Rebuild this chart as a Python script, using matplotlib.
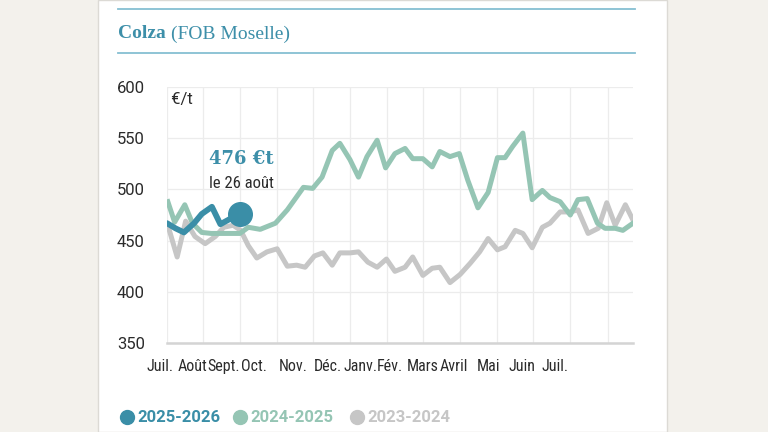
import matplotlib.pyplot as plt
from matplotlib import font_manager
from matplotlib.patches import Rectangle
from matplotlib.lines import Line2D
from matplotlib.transforms import blended_transform_factory

# semaines depuis le 1er juillet / prix en €/t
x_2526 = [0, 1, 2, 3.2, 4.1, 5.3, 6.3, 7.4, 8.6]
y_2526 = [467, 462, 458, 467, 476, 483, 466, 471, 476]

x_2425 = [0.1, 0.9, 2.1, 3.0, 4.1, 5.2, 6.3, 7.2, 8.6, 9.6, 11.0, 12.8, 14.2,
          16.1, 17.2, 18.3, 19.5, 20.4, 21.6, 22.6, 23.6, 24.8, 25.8, 26.9,
          28.1, 29.0, 30.2, 31.3, 32.2, 33.4, 34.5, 35.5, 36.7, 37.9, 39.0,
          39.9, 40.8, 42.0, 43.1, 44.3, 45.2, 46.4, 47.6, 48.5, 49.6, 50.8,
          51.7, 52.9, 53.8, 55.0]
y_2425 = [488, 468, 485, 467, 458, 457, 457, 457, 457, 463, 461, 467, 480,
          502, 501, 512, 538, 545, 529, 512, 532, 548, 521, 535,
          540, 530, 530, 522, 537, 532, 535, 509, 482, 497, 531,
          531, 542, 555, 490, 499, 492, 488, 475, 490, 491, 467,
          462, 462, 460, 467]

x_2324 = [0.1, 1.2, 2.2, 3.3, 4.5, 5.7, 6.7, 7.8, 8.7, 9.6, 10.6, 11.8, 13.0,
          14.2, 15.3, 16.3, 17.4, 18.4, 19.5, 20.4, 21.6, 22.6, 23.7, 24.8,
          25.9, 26.9, 28.1, 29.0, 30.2, 31.3, 32.2, 33.4, 34.6, 35.8, 36.9,
          37.9, 39.0, 39.9, 41.1, 42.0, 43.1, 44.3, 45.2, 46.4, 47.6, 48.5,
          49.7, 50.9, 51.9, 52.9, 54.1, 55.0]
y_2324 = [465, 434, 469, 454, 447, 454, 463, 465, 460, 445, 433, 439, 442,
          425, 426, 424, 435, 438, 426, 438, 438, 439, 429, 424,
          432, 420, 424, 434, 416, 423, 424, 409, 417, 428, 439,
          452, 441, 444, 460, 457, 443, 463, 467, 478, 478, 480,
          457, 462, 487, 465, 485, 470]

mois = ['Juil.', 'Août', 'Sept.', 'Oct.', 'Nov.', 'Déc.', 'Janv.', 'Fév.',
        'Mars', 'Avril', 'Mai', 'Juin', 'Juil.']
mois_labels_x = [-0.83, 2.95, 6.73, 10.27, 14.9, 19.0, 22.8, 26.3, 30.2,
                 33.9, 38.0, 41.9, 45.8]
mois_grid = [0, 4.25, 8.6, 13.0, 17.2, 21.6, 26.0, 30.2, 34.6, 39.0, 43.2,
             47.6, 52.0]
y_ticks = [350, 400, 450, 500, 550, 600]

c_2526 = '#3a8ea7'
c_2425 = '#95c5b4'
c_2324 = '#c6c6c6'
title_c = '#3d8fa9'
rule_c = '#86bfd2'
txt_c = '#2b2b2b'

# police étroite (droite, non grasse) si dispo
narrow_fp = None
cands = []
for f in font_manager.fontManager.ttflist:
    if f.style != 'normal' or f.weight not in (400, 'normal', 'regular', 'book'):
        continue
    if f.name in ('Roboto Condensed', 'Liberation Sans Narrow', 'Open Sans Condensed',
                  'Noto Sans Condensed', 'DejaVu Sans Condensed') or \
            ('ondensed' in str(f.stretch) and 'Serif' not in f.name and 'Mono' not in f.name):
        cands.append(f)
cands.sort(key=lambda f: 0 if 'Roboto' in f.name else 1)
if cands:
    narrow_fp = font_manager.FontProperties(fname=cands[0].fname)
    lab_size = 11.5
else:
    narrow_fp = font_manager.FontProperties(family='Roboto')
    lab_size = 10
narrow_fp.set_size(lab_size)

fig = plt.figure(figsize=(7.68, 4.32), dpi=100, facecolor='#f3f1ec')
fig.add_artist(Rectangle((98 / 768, 0), 569 / 768, 1, transform=fig.transFigure,
                         facecolor='white', edgecolor='#dcdad5', lw=1, zorder=0))

# filets et titre
for yy in [1 - 9 / 432, 1 - 53 / 432]:
    fig.add_artist(Line2D([118 / 768, 635 / 768], [yy, yy], transform=fig.transFigure,
                          color=rule_c, lw=1.3))
t1 = fig.text(118 / 768, 1 - 34 / 432, 'Colza', family='Liberation Serif', weight='bold',
              fontsize=14, color=title_c, va='center')
fig.add_artist(plt.Annotation('(FOB Moselle)', xy=(1, 0.5), xycoords=t1,
                              xytext=(3.5, 0), textcoords='offset points',
                              family='Liberation Serif', fontsize=14,
                              color=title_c, va='center', ha='left'))

ax = fig.add_axes([167 / 768, 1 - 343 / 432, 466 / 768, 256 / 432])
ax.set_facecolor('none')
ax.plot(x_2324, y_2324, color=c_2324, lw=3.6, solid_joinstyle='round', zorder=3)
ax.plot(x_2425, y_2425, color=c_2425, lw=3.6, solid_joinstyle='round', zorder=4)
ax.plot(x_2526, y_2526, color=c_2526, lw=4.2, solid_joinstyle='round',
        solid_capstyle='round', zorder=5)
ax.plot(x_2526[-1], y_2526[-1], 'o', color=c_2526, ms=17, zorder=6)

ax.set_xlim(0, 55)
ax.set_ylim(350, 600)
ax.set_yticks(y_ticks)
ax.set_yticklabels([str(v) for v in y_ticks], family='Roboto', fontsize=12, color=txt_c)
ax.tick_params(axis='y', length=0, pad=16)
ax.set_xticks(mois_grid)
ax.set_xticklabels([])
ax.tick_params(axis='x', length=0)
ax.grid(True, color='#ececec', lw=0.9)
for s in ['top', 'right', 'left']:
    ax.spines[s].set_visible(False)
ax.spines['bottom'].set_color('#d4d4d4')
ax.spines['bottom'].set_linewidth(1.8)

trans = blended_transform_factory(ax.transData, ax.transAxes)
for lab, xp in zip(mois, mois_labels_x):
    ax.text(xp, -0.093, lab, transform=trans, ha='center', va='center',
            fontproperties=narrow_fp, color=txt_c, clip_on=False)

ax.text(0.0, 0.95, ' €/t', transform=ax.transAxes, family='Roboto', fontsize=12,
        color=txt_c, va='center', ha='left')
ax.text(x_2526[-1] + 0.2, 530, '476 €t', family='DejaVu Serif', weight='bold',
        fontsize=13, color=title_c, ha='center', va='center')
ann_fp = narrow_fp.copy()
ann_fp.set_size(12)
ax.text(x_2526[-1] + 0.2, 506, 'le 26 août', fontproperties=ann_fp,
        color=txt_c, ha='center', va='center')

# légende
leg = [('2025-2026', c_2526, 127), ('2024-2025', c_2425, 240), ('2023-2024', c_2324, 357)]
for lab, col, px in leg:
    fig.add_artist(Line2D([px / 768], [1 - 417 / 432], marker='o', ms=10, color=col,
                          transform=fig.transFigure))
    fig.text((px + 10) / 768, 1 - 417 / 432, lab, family='Roboto', weight='bold',
             fontsize=12, color=col, va='center')

fig.savefig('out.png', dpi=100, facecolor=fig.get_facecolor())
